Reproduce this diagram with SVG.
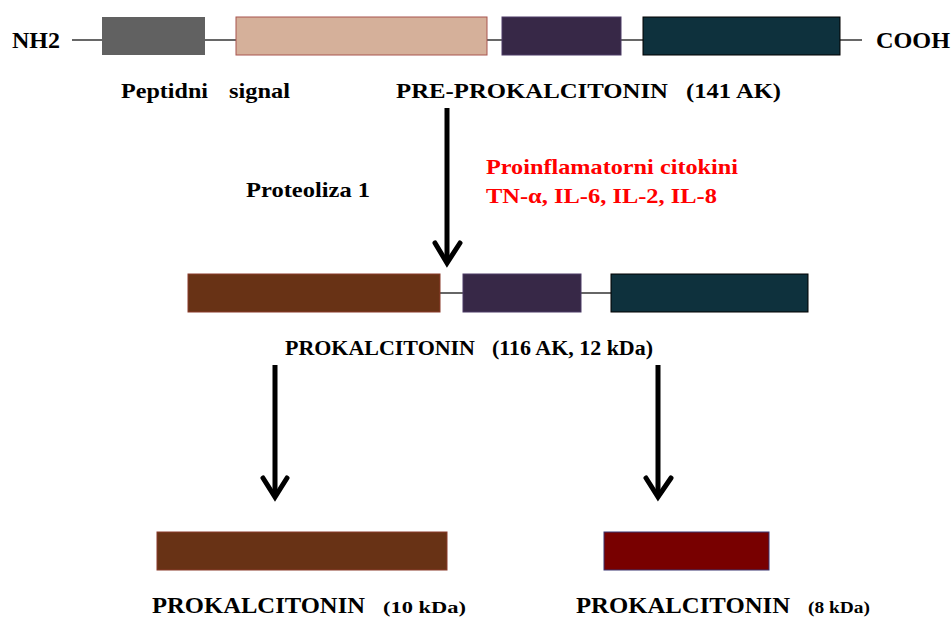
<svg xmlns="http://www.w3.org/2000/svg" width="952" height="617" viewBox="0 0 952 617">
<style>
text{font-family:"Liberation Serif","Times New Roman",serif;font-weight:bold;fill:#000}
.red{fill:#ff0000}
.ln{stroke:#000;stroke-width:1.2;fill:none}
.arr{stroke:#000;stroke-width:5;fill:none}
.head{stroke:#000;stroke-width:5;fill:none;stroke-linecap:round;stroke-linejoin:miter}
</style>
<rect width="952" height="617" fill="#fff"/>
<g id="connectors">
  <line class="ln" x1="72" y1="40" x2="102" y2="40"/>
  <line class="ln" x1="205" y1="40" x2="236" y2="40"/>
  <line class="ln" x1="487" y1="40" x2="502" y2="40"/>
  <line class="ln" x1="621" y1="40" x2="643" y2="40"/>
  <line class="ln" x1="840" y1="40" x2="862" y2="40"/>
  <line class="ln" x1="440" y1="293" x2="463" y2="293"/>
  <line class="ln" x1="581" y1="293" x2="611" y2="293"/>
  <g id="arrow1"><line class="arr" x1="447" y1="108" x2="447" y2="261"/><polyline class="head" points="435,243 447,263 460,243"/></g>
  <g id="arrow2"><line class="arr" x1="275" y1="365" x2="275" y2="494"/><polyline class="head" points="263,478 275,497 287,478"/></g>
  <g id="arrow3"><line class="arr" x1="658" y1="365" x2="658" y2="494"/><polyline class="head" points="646,478 658,497 671,478"/></g>
</g>
<g id="nh2"><text x="12" y="48" font-size="23" textLength="48" lengthAdjust="spacingAndGlyphs">NH2</text></g>
<g id="cooh"><text x="876" y="48" font-size="23" textLength="74" lengthAdjust="spacingAndGlyphs">COOH</text></g>
<g id="signal-peptide"><rect x="102" y="17" width="103" height="38" fill="#616161"/></g>
<g id="pre-segment"><rect x="236" y="17" width="251" height="38" fill="#d5b09a" stroke="#a8544e" stroke-width="1"/></g>
<g id="calcitonin-top"><rect x="502" y="17" width="119" height="38" fill="#372847" stroke="#4d3b66" stroke-width="1"/></g>
<g id="katacalcin-top"><rect x="643" y="17" width="197" height="38" fill="#0e313d" stroke="#000" stroke-width="1"/></g>
<g id="label-peptide"><text x="121" y="98" font-size="22" textLength="87" lengthAdjust="spacingAndGlyphs">Peptidni</text><text x="229" y="98" font-size="22" textLength="61" lengthAdjust="spacingAndGlyphs">signal</text></g>
<g id="label-pre"><text x="396" y="98" font-size="22" textLength="272" lengthAdjust="spacingAndGlyphs">PRE-PROKALCITONIN</text><text x="686" y="98" font-size="22" textLength="95" lengthAdjust="spacingAndGlyphs">(141 AK)</text></g>
<g id="proteoliza"><text x="246" y="197" font-size="22" textLength="124" lengthAdjust="spacingAndGlyphs">Proteoliza 1</text></g>
<g id="cytokines"><text class="red" x="486" y="174" font-size="22" textLength="252" lengthAdjust="spacingAndGlyphs">Proinflamatorni citokini</text><text class="red" x="486" y="203" font-size="22" textLength="231" lengthAdjust="spacingAndGlyphs">TN-α, IL-6, IL-2, IL-8</text></g>
<g id="pct-n"><rect x="188" y="274" width="252" height="38" fill="#683215" stroke="#8a3a2a" stroke-width="1"/></g>
<g id="pct-calcitonin"><rect x="463" y="274" width="118" height="38" fill="#372847" stroke="#4d3b66" stroke-width="1"/></g>
<g id="pct-katacalcin"><rect x="611" y="274" width="197" height="38" fill="#0e313d" stroke="#000" stroke-width="1"/></g>
<g id="label-pct"><text x="285" y="355" font-size="20" textLength="190" lengthAdjust="spacingAndGlyphs">PROKALCITONIN</text><text x="492" y="355" font-size="20" textLength="161" lengthAdjust="spacingAndGlyphs">(116 AK, 12 kDa)</text></g>
<g id="pct10"><rect x="157" y="532" width="290" height="38" fill="#683215" stroke="#8a3a2a" stroke-width="1"/></g>
<g id="pct8"><rect x="604" y="532" width="165" height="38" fill="#780000" stroke="#3a3470" stroke-width="1"/></g>
<g id="label-pct10"><text x="152" y="613" font-size="23" textLength="213" lengthAdjust="spacingAndGlyphs">PROKALCITONIN</text><text x="383" y="613" font-size="16" textLength="83" lengthAdjust="spacingAndGlyphs">(10 kDa)</text></g>
<g id="label-pct8"><text x="576" y="613" font-size="23" textLength="214" lengthAdjust="spacingAndGlyphs">PROKALCITONIN</text><text x="808" y="613" font-size="16" textLength="62" lengthAdjust="spacingAndGlyphs">(8 kDa)</text></g>
</svg>
